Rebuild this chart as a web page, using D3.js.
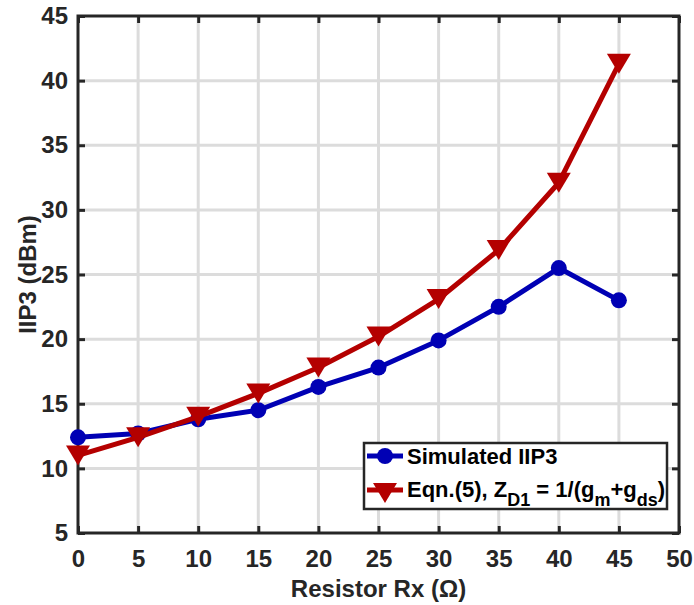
<!DOCTYPE html>
<html>
<head>
<meta charset="utf-8">
<script src="https://cdn.jsdelivr.net/npm/d3@7"></script>
<style>
  body { margin: 0; background: #fff; }
  svg { display: block; font-family: "Liberation Sans", Arial, sans-serif; }
</style>
</head>
<body>
<svg id="chart" width="694" height="605"></svg>
<script>
// Resistor values (Ω)
const rx = [0, 5, 10, 15, 20, 25, 30, 35, 40, 45];
// Simulated IIP3 (dBm)
const simulated = [12.4, 12.7, 13.8, 14.5, 16.3, 17.8, 19.9, 22.5, 25.5, 23.0];
// IIP3 from Eqn.(5) (dBm)
const equation = [11.0, 12.4, 14.0, 15.8, 17.8, 20.2, 23.1, 26.9, 32.1, 41.3];

const xTicks = [0, 5, 10, 15, 20, 25, 30, 35, 40, 45, 50];
const yTicks = [5, 10, 15, 20, 25, 30, 35, 40, 45];

const blue = "#0000b4";
const red = "#b40000";
const axisColor = "#262626";
const gridColor = "#dcdcdc";

const svg = d3.select("#chart");
const m = { left: 78, top: 16, right: 679, bottom: 533 };

const x = d3.scaleLinear().domain([0, 50]).range([m.left, m.right]);
const y = d3.scaleLinear().domain([5, 45]).range([m.bottom, m.top]);

// grid
const grid = svg.append("g");
grid.selectAll("line.gx").data(xTicks.slice(1, -1)).join("line")
  .attr("x1", d => x(d)).attr("x2", d => x(d))
  .attr("y1", m.top).attr("y2", m.bottom)
  .attr("stroke", gridColor).attr("stroke-width", 3);
grid.selectAll("line.gy").data(yTicks.slice(1, -1)).join("line")
  .attr("y1", d => y(d)).attr("y2", d => y(d))
  .attr("x1", m.left).attr("x2", m.right)
  .attr("stroke", gridColor).attr("stroke-width", 3);

// axes with inward ticks on all four sides
const tickLen = 7;
const axisBottom = d3.axisBottom(x).tickValues(xTicks).tickSizeInner(-tickLen).tickSizeOuter(0).tickPadding(17);
const axisLeft = d3.axisLeft(y).tickValues(yTicks).tickSizeInner(-tickLen).tickSizeOuter(0).tickPadding(10);
const axisTop = d3.axisTop(x).tickValues(xTicks).tickSizeInner(-tickLen).tickSizeOuter(0).tickFormat("");
const axisRight = d3.axisRight(y).tickValues(yTicks).tickSizeInner(-tickLen).tickSizeOuter(0).tickFormat("");

function styleAxis(g) {
  g.select(".domain").remove();
  g.selectAll(".tick line").attr("stroke", axisColor).attr("stroke-width", 3);
  g.selectAll(".tick text").attr("fill", axisColor)
    .style("font-size", "24px").style("font-weight", "bold");
}
svg.append("g").attr("transform", `translate(0,${m.bottom})`).call(axisBottom).call(styleAxis);
svg.append("g").attr("transform", `translate(${m.left},0)`).call(axisLeft).call(styleAxis);
svg.append("g").attr("transform", `translate(0,${m.top})`).call(axisTop).call(styleAxis);
svg.append("g").attr("transform", `translate(${m.right},0)`).call(axisRight).call(styleAxis);

svg.append("rect")
  .attr("x", m.left).attr("y", m.top)
  .attr("width", m.right - m.left).attr("height", m.bottom - m.top)
  .attr("fill", "none").attr("stroke", axisColor).attr("stroke-width", 3);

// axis labels
svg.append("text")
  .attr("x", (m.left + m.right) / 2).attr("y", 597)
  .attr("text-anchor", "middle").attr("fill", axisColor)
  .style("font-size", "24px").style("font-weight", "bold")
  .text("Resistor Rx (Ω)");
svg.append("text")
  .attr("transform", `translate(36,${(m.top + m.bottom) / 2}) rotate(-90)`)
  .attr("text-anchor", "middle").attr("fill", axisColor)
  .style("font-size", "24px").style("font-weight", "bold")
  .text("IIP3 (dBm)");

// series
const line = d3.line().x(d => x(d[0])).y(d => y(d[1]));
const simPts = rx.map((r, i) => [r, simulated[i]]);
const eqPts = rx.map((r, i) => [r, equation[i]]);

const triangle = (cx, cy, w, h) =>
  `M${cx - w / 2},${cy - h / 2}L${cx + w / 2},${cy - h / 2}L${cx},${cy + h / 2}Z`;

svg.append("path").datum(simPts).attr("d", line)
  .attr("fill", "none").attr("stroke", blue).attr("stroke-width", 5).attr("stroke-linejoin", "round");
svg.append("g").selectAll("circle").data(simPts).join("circle")
  .attr("cx", d => x(d[0])).attr("cy", d => y(d[1])).attr("r", 8).attr("fill", blue);

svg.append("path").datum(eqPts).attr("d", line)
  .attr("fill", "none").attr("stroke", red).attr("stroke-width", 5).attr("stroke-linejoin", "round");
svg.append("g").selectAll("path").data(eqPts).join("path")
  .attr("d", d => triangle(x(d[0]), y(d[1]), 24, 20)).attr("fill", red);

// legend
const lg = svg.append("g");
lg.append("rect").attr("x", 364).attr("y", 443).attr("width", 303).attr("height", 66)
  .attr("fill", "#fff").attr("stroke", axisColor).attr("stroke-width", 2.5);
const lx1 = 367, lx2 = 403, lcx = 385;
const ly1 = 456, ly2 = 490;
lg.append("line").attr("x1", lx1).attr("x2", lx2).attr("y1", ly1).attr("y2", ly1)
  .attr("stroke", blue).attr("stroke-width", 5);
lg.append("circle").attr("cx", lcx).attr("cy", ly1).attr("r", 8).attr("fill", blue);
lg.append("line").attr("x1", lx1).attr("x2", lx2).attr("y1", ly2).attr("y2", ly2)
  .attr("stroke", red).attr("stroke-width", 5);
lg.append("path").attr("d", triangle(lcx, ly2 + 3, 24, 20)).attr("fill", red);

const ts = t => t.attr("fill", "#000").style("font-size", "22px").style("font-weight", "bold");
lg.append("text").attr("x", 407).attr("y", 464).call(ts).text("Simulated IIP3");
const t2 = lg.append("text").attr("x", 407).attr("y", 497).call(ts);
const sub = 9;
t2.append("tspan").text("Eqn.(5), Z");
t2.append("tspan").attr("dy", sub).style("font-size", "18px").text("D1");
t2.append("tspan").attr("dy", -sub).text(" = 1/(g");
t2.append("tspan").attr("dy", sub).style("font-size", "18px").text("m");
t2.append("tspan").attr("dy", -sub).text("+g");
t2.append("tspan").attr("dy", sub).style("font-size", "18px").text("ds");
t2.append("tspan").attr("dy", -sub).text(")");
</script>
</body>
</html>
